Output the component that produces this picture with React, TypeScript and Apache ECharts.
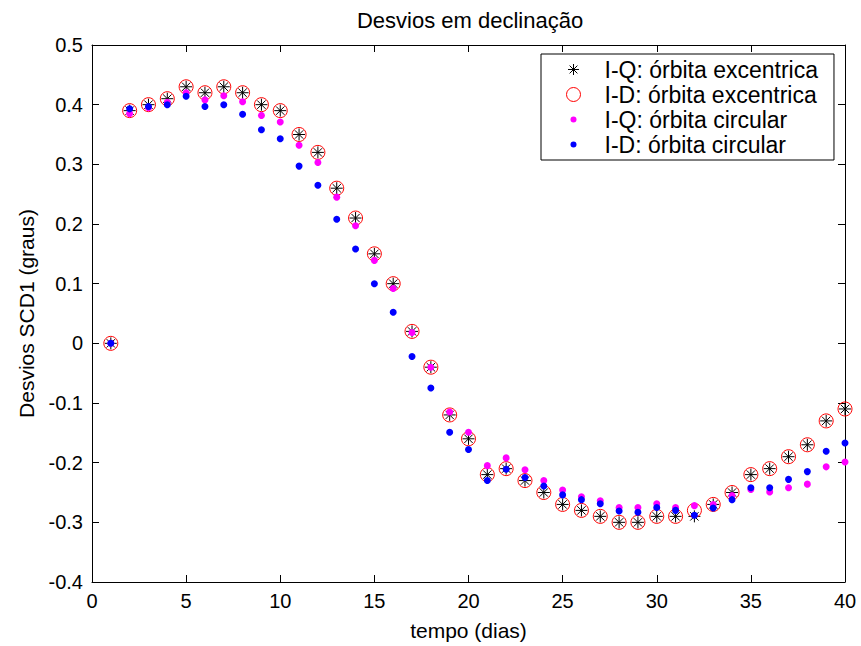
import React, { useEffect, useRef } from 'react';
import * as echarts from 'echarts';

// Days (x values)
const days = [1, 2, 3, 4, 5, 6, 7, 8, 9, 10, 11, 12, 13, 14, 15, 16, 17, 18, 19, 20,
  21, 22, 23, 24, 25, 26, 27, 28, 29, 30, 31, 32, 33, 34, 35, 36, 37, 38, 39, 40];

// I-Q: órbita excentrica (asterisk)
const iqExc = [0, 0.39, 0.40, 0.41, 0.43, 0.42, 0.43, 0.42, 0.40, 0.39,
  0.35, 0.32, 0.26, 0.21, 0.15, 0.10, 0.02, -0.04, -0.12, -0.16,
  -0.22, -0.21, -0.23, -0.25, -0.27, -0.28, -0.29, -0.30, -0.30, -0.29,
  -0.29, -0.29, -0.27, -0.25, -0.22, -0.21, -0.19, -0.17, -0.13, -0.11];

// I-D: órbita excentrica (red open circle)
const idExc = [0, 0.39, 0.40, 0.41, 0.43, 0.42, 0.43, 0.42, 0.40, 0.39,
  0.35, 0.32, 0.26, 0.21, 0.15, 0.10, 0.02, -0.04, -0.12, -0.16,
  -0.22, -0.21, -0.23, -0.25, -0.27, -0.28, -0.29, -0.30, -0.30, -0.29,
  -0.29, -0.28, -0.27, -0.25, -0.22, -0.21, -0.19, -0.17, -0.13, -0.11];

// I-Q: órbita circular (magenta dot)
const iqCirc = [0, 0.385, 0.395, 0.404, 0.42, 0.408, 0.415, 0.405, 0.382, 0.371,
  0.332, 0.303, 0.245, 0.197, 0.139, 0.092, 0.018, -0.04, -0.115, -0.149,
  -0.205, -0.192, -0.212, -0.23, -0.246, -0.257, -0.264, -0.275, -0.275, -0.269,
  -0.275, -0.272, -0.27, -0.255, -0.245, -0.249, -0.242, -0.236, -0.207, -0.199];

// I-D: órbita circular (blue dot)
const idCirc = [0, 0.393, 0.397, 0.40, 0.414, 0.397, 0.40, 0.384, 0.358, 0.343,
  0.297, 0.265, 0.208, 0.158, 0.10, 0.052, -0.022, -0.075, -0.149, -0.178,
  -0.23, -0.211, -0.225, -0.239, -0.254, -0.262, -0.269, -0.281, -0.283, -0.275,
  -0.28, -0.288, -0.276, -0.262, -0.242, -0.242, -0.228, -0.215, -0.181, -0.167];

const seriesNames = [
  'I-Q: órbita excentrica',
  'I-D: órbita excentrica',
  'I-Q: órbita circular',
  'I-D: órbita circular',
];

const FONT = '"Liberation Sans", Arial, Helvetica, sans-serif';

const STAR_SYMBOL = 'path://M0,-6L0,6M-6,0L6,0M-4.2,-4.2L4.2,4.2M-4.2,4.2L4.2,-4.2';
// Legend icons padded to a 48x22 box, glyph centred at (22,11)
const PAD = 'M0,0M48,22';
const LEG_STAR = `path://${PAD}M22,5.5L22,16.5M16.5,11L27.5,11M18.1,7.1L25.9,14.9M18.1,14.9L25.9,7.1`;
const LEG_CIRCLE = `path://${PAD}M29,11A7,7 0 1 1 15,11A7,7 0 1 1 29,11Z`;
const LEG_DOT = `path://${PAD}M25,11A3,3 0 1 1 19,11A3,3 0 1 1 25,11Z`;

const pairs = (vals: number[]) => days.map((d, i) => [d, vals[i]]);

export default function App() {
  const ref = useRef<HTMLDivElement>(null);
  useEffect(() => {
    if (!ref.current) return;
    const chart = echarts.init(ref.current, undefined, { renderer: 'svg' });
    const axisCommon = {
      axisLine: { show: true, onZero: false, lineStyle: { color: '#000', width: 1 } },
      axisTick: { show: true, inside: true, length: 7, lineStyle: { color: '#000', width: 1 } },
      splitLine: { show: false },
    };
    chart.setOption({
      animation: false,
      backgroundColor: '#fff',
      textStyle: { fontFamily: FONT },
      title: {
        text: 'Desvios em declinação',
        left: 470,
        textAlign: 'center',
        top: 9,
        padding: 0,
        textStyle: { fontFamily: FONT, fontSize: 22, fontWeight: 'normal', color: '#000' },
      },
      grid: { left: 92, right: 16, top: 45, bottom: 61, containLabel: false },
      legend: {
        orient: 'vertical',
        left: 541,
        top: 54,
        padding: [4, 16, 4, 10],
        itemGap: 2,
        itemWidth: 48,
        itemHeight: 22,
        borderColor: '#000',
        borderWidth: 1,
        backgroundColor: '#fff',
        textStyle: { fontFamily: FONT, fontSize: 23, color: '#000' },
        data: [
          { name: seriesNames[0], icon: LEG_STAR, itemStyle: { borderWidth: 1 } },
          { name: seriesNames[1], icon: LEG_CIRCLE, itemStyle: { borderWidth: 1 } },
          { name: seriesNames[2], icon: LEG_DOT },
          { name: seriesNames[3], icon: LEG_DOT },
        ],
      },
      xAxis: [
        {
          type: 'value',
          min: 0,
          max: 40,
          interval: 5,
          position: 'bottom',
          name: 'tempo (dias)',
          nameLocation: 'middle',
          nameGap: 38,
          nameTextStyle: { fontFamily: FONT, fontSize: 21, color: '#000' },
          ...axisCommon,
          axisLabel: { show: true, margin: 9, fontFamily: FONT, fontSize: 20, color: '#000' },
        },
        {
          type: 'value',
          min: 0,
          max: 40,
          interval: 5,
          position: 'top',
          ...axisCommon,
          axisLabel: { show: false },
        },
      ],
      yAxis: [
        {
          type: 'value',
          min: -0.4,
          max: 0.5,
          interval: 0.1,
          position: 'left',
          name: 'Desvios SCD1 (graus)',
          nameLocation: 'middle',
          nameGap: 55,
          nameTextStyle: { fontFamily: FONT, fontSize: 21, color: '#000' },
          ...axisCommon,
          axisLabel: {
            show: true,
            margin: 9,
            fontFamily: FONT,
            fontSize: 20,
            color: '#000',
            formatter: (v: number) => (Math.abs(v) < 1e-9 ? '0' : (Math.round(v * 10) / 10).toFixed(1)),
          },
        },
        {
          type: 'value',
          min: -0.4,
          max: 0.5,
          interval: 0.1,
          position: 'right',
          ...axisCommon,
          axisLabel: { show: false },
        },
      ],
      series: [
        {
          name: seriesNames[0],
          type: 'scatter',
          data: pairs(iqExc),
          symbol: STAR_SYMBOL,
          symbolSize: 12,
          itemStyle: { color: 'rgba(0,0,0,0)', borderColor: '#000', borderWidth: 1, opacity: 1 },
          z: 2,
        },
        {
          name: seriesNames[1],
          type: 'scatter',
          data: pairs(idExc),
          symbol: 'circle',
          symbolSize: 14,
          itemStyle: { color: 'rgba(0,0,0,0)', borderColor: '#ff0000', borderWidth: 1, opacity: 1 },
          z: 3,
        },
        {
          name: seriesNames[2],
          type: 'scatter',
          data: pairs(iqCirc),
          symbol: 'circle',
          symbolSize: 7,
          itemStyle: { color: '#ff00ff', opacity: 1 },
          z: 4,
        },
        {
          name: seriesNames[3],
          type: 'scatter',
          data: pairs(idCirc),
          symbol: 'circle',
          symbolSize: 7,
          itemStyle: { color: '#0000ff', opacity: 1 },
          z: 5,
        },
      ],
    });
    return () => chart.dispose();
  }, []);
  return (
    <div
      ref={ref}
      style={{ position: 'absolute', left: 0, top: 0, width: 861, height: 646, background: '#fff' }}
    />
  );
}
